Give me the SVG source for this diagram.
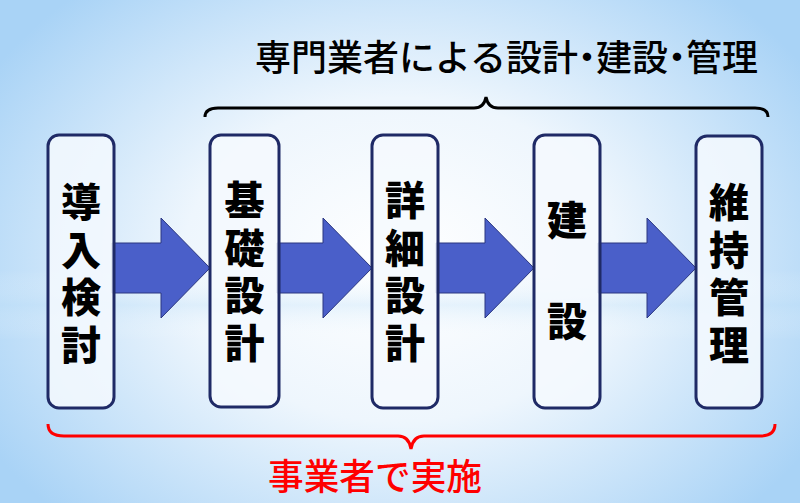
<svg xmlns="http://www.w3.org/2000/svg" width="800" height="503" viewBox="0 0 800 503">
<defs>
<radialGradient id="bg" cx="400" cy="260" r="480" gradientUnits="userSpaceOnUse" gradientTransform="translate(400 260) scale(1 0.75) translate(-400 -260)">
<stop offset="0" stop-color="#ffffff"/>
<stop offset="0.45" stop-color="#eef6fd"/>
<stop offset="1" stop-color="#a9d3f6"/>
</radialGradient>
<linearGradient id="band" x1="0" y1="0" x2="0" y2="1">
<stop offset="0" stop-color="#ffffff" stop-opacity="0"/>
<stop offset="0.5" stop-color="#bfe0f8" stop-opacity="0.35"/>
<stop offset="1" stop-color="#ffffff" stop-opacity="0"/>
</linearGradient>
<style>
.box{fill:#f4f9fe;fill-opacity:0.85;stroke:#1f2a66;stroke-width:3}
.arr{fill:#4a5fc9;stroke:#2a3680;stroke-width:1}
.bt{font-family:"Noto Sans CJK JP","Noto Sans CJK SC",sans-serif;font-weight:900;font-size:40px;fill:#000;text-anchor:middle}
.vt{writing-mode:vertical-rl;letter-spacing:7.5px}
.title{font-family:"Noto Sans CJK JP",sans-serif;font-weight:500;font-size:36px;fill:#000;font-feature-settings:"halt"}
.red{font-family:"Noto Sans CJK JP",sans-serif;font-weight:500;font-size:36px;fill:#ff0000}
</style>
</defs>
<rect width="800" height="503" fill="url(#bg)"/>
<rect x="0" y="270" width="800" height="70" fill="url(#band)"/>
<g id="connectors">
<path class="arr" d="M112 243 H161 V218 L210 268 L161 318 V293 H112 Z"/>
<path class="arr" d="M277 243 H323 V218 L372 268 L323 318 V293 H277 Z"/>
<path class="arr" d="M436 243 H485 V218 L534 268 L485 318 V293 H436 Z"/>
<path class="arr" d="M598 243 H647 V218 L696 268 L647 318 V293 H598 Z"/>
</g>
<g id="node1">
<rect class="box" x="48" y="135" width="66" height="273" rx="11"/>
<text class="bt vt" x="81" y="277">導入検討</text>
</g>
<g id="node2">
<rect class="box" x="210" y="135" width="69" height="272" rx="11"/>
<text class="bt vt" x="244.5" y="275">基礎設計</text>
</g>
<g id="node3">
<rect class="box" x="372" y="135" width="66" height="273" rx="11"/>
<text class="bt vt" x="405" y="275">詳細設計</text>
</g>
<g id="node4">
<rect class="box" x="534" y="135" width="66" height="273" rx="11"/>
<text class="bt" x="567" y="235">建</text>
<text class="bt" x="567" y="336">設</text>
</g>
<g id="node5">
<rect class="box" x="696" y="136" width="66" height="272" rx="11"/>
<text class="bt vt" x="729" y="277">維持管理</text>
</g>
<g id="top-brace">
<path d="M205 117 Q205 108 218 108 H474 Q484 108 486 97 Q488 108 498 108 H755 Q768 108 768 117" fill="none" stroke="#000" stroke-width="3"/>
<text class="title" x="255" y="71">専門業者による設計・建設・管理</text>
</g>
<g id="bottom-brace">
<path d="M48 424 Q48 436 64 436 H398 Q409 436 411 449 Q413 436 424 436 H760 Q775 436 775 424" fill="none" stroke="#ff0000" stroke-width="3"/>
<text class="red" x="268" y="490" textLength="214" lengthAdjust="spacingAndGlyphs">事業者で実施</text>
</g>
</svg>
